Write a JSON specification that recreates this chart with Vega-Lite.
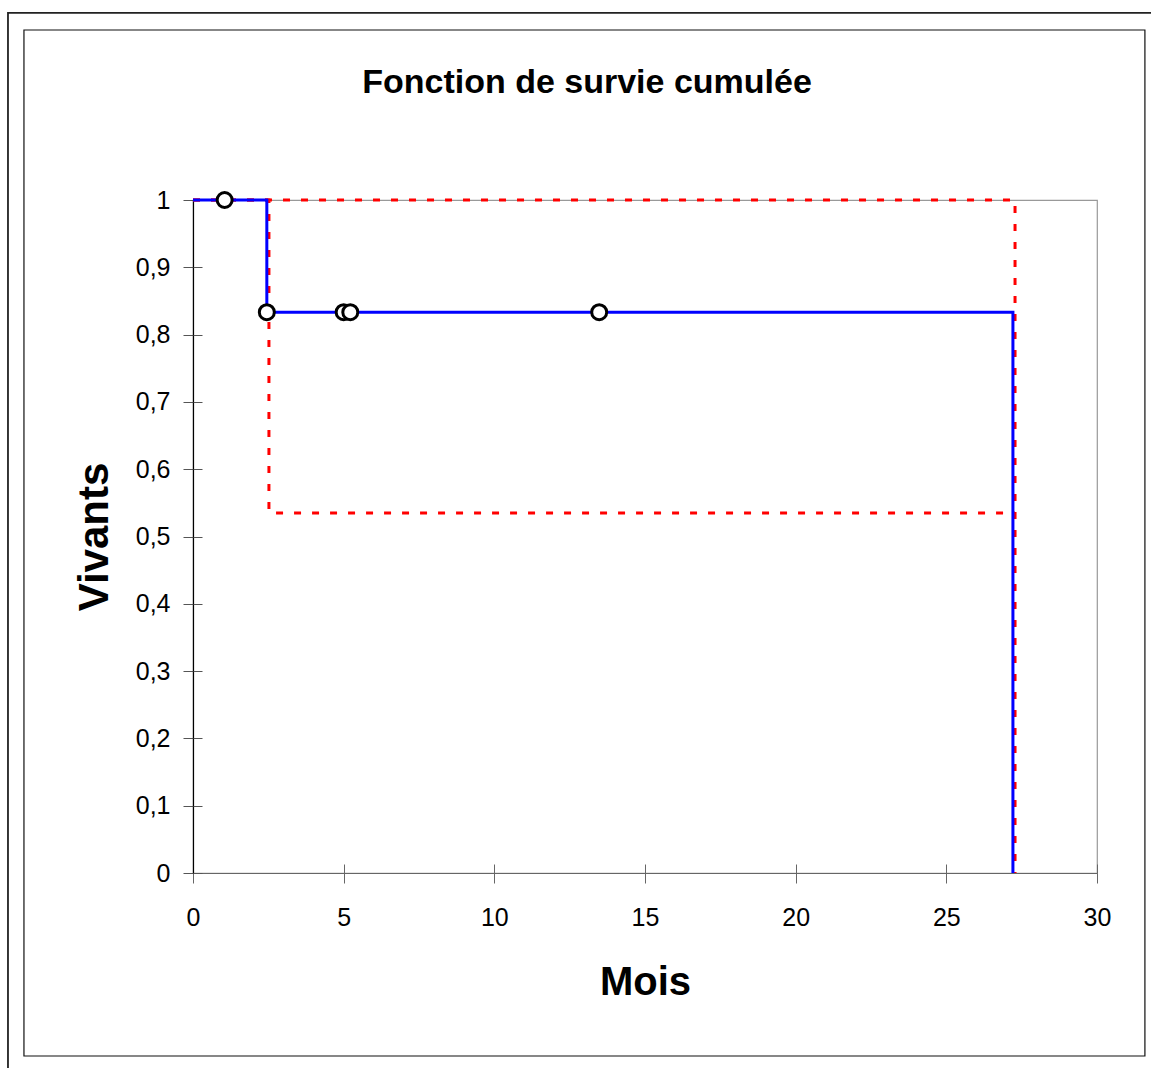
{
  "$schema": "https://vega.github.io/schema/vega-lite/v6.json",
  "width": 904,
  "height": 673,
  "autosize": {"type": "none"},
  "padding": {"left": 193, "top": 200, "right": 54, "bottom": 195},
  "background": "white",
  "config": {
    "view": {"stroke": "#999999", "strokeWidth": 1.2},
    "font": "Liberation Sans"
  },
  "title": {
    "text": "Fonction de survie cumulée",
    "font": "Liberation Sans",
    "fontSize": 34,
    "fontWeight": "bold",
    "color": "black",
    "anchor": "middle",
    "frame": "group",
    "dx": -58,
    "offset": -88
  },
  "datasets": {
    "courbes": [
      {"serie": "survie", "mois": 0, "vivants": 1},
      {"serie": "survie", "mois": 2.45, "vivants": 0.8333},
      {"serie": "survie", "mois": 27.21, "vivants": 0},
      {"serie": "ic_sup", "mois": 0, "vivants": 1},
      {"serie": "ic_sup", "mois": 27.28, "vivants": 0},
      {"serie": "ic_inf", "mois": 0, "vivants": 1},
      {"serie": "ic_inf", "mois": 2.52, "vivants": 0.535},
      {"serie": "ic_inf", "mois": 27.28, "vivants": 0.535}
    ],
    "censures": [
      {"mois": 1.05, "vivants": 1},
      {"mois": 2.45, "vivants": 0.8333},
      {"mois": 5.0, "vivants": 0.8333},
      {"mois": 5.22, "vivants": 0.8333},
      {"mois": 13.48, "vivants": 0.8333}
    ],
    "cadre": [{"cadre": "page"}]
  },
  "resolve": {"axis": {"x": "independent", "y": "independent"}},
  "layer": [
    {
      "data": {"name": "cadre"},
      "mark": {"type": "rect", "fill": "transparent", "stroke": "#222222", "strokeWidth": 1.8, "clip": false},
      "encoding": {
        "x": {"datum": -6.14, "type": "quantitative", "scale": {"domain": [0, 30]}, "axis": null},
        "x2": {"datum": 32.3},
        "y": {"datum": 1.278, "type": "quantitative", "scale": {"domain": [0, 1]}, "axis": null},
        "y2": {"datum": -0.31}
      }
    },
    {
      "data": {"name": "cadre"},
      "mark": {"type": "rect", "fill": "transparent", "stroke": "#111111", "strokeWidth": 1.2, "clip": false},
      "encoding": {
        "x": {"datum": -5.61, "type": "quantitative", "scale": {"domain": [0, 30]}, "axis": null},
        "x2": {"datum": 31.59},
        "y": {"datum": 1.2526, "type": "quantitative", "scale": {"domain": [0, 1]}, "axis": null},
        "y2": {"datum": -0.2719}
      }
    },
    {
      "data": {"name": "courbes"},
      "transform": [{"filter": "datum.serie !== 'survie'"}],
      "mark": {"type": "line", "interpolate": "step-after", "color": "#FF0000", "strokeWidth": 3, "strokeDash": [7, 11], "clip": false},
      "encoding": {
        "x": {"field": "mois", "type": "quantitative", "scale": {"domain": [0, 30]}, "axis": null},
        "y": {"field": "vivants", "type": "quantitative", "scale": {"domain": [0, 1]}, "axis": null},
        "detail": {"field": "serie"}
      }
    },
    {
      "data": {"name": "courbes"},
      "transform": [{"filter": "datum.serie === 'survie'"}],
      "mark": {"type": "line", "interpolate": "step-after", "color": "#0000FF", "strokeWidth": 3, "clip": false},
      "encoding": {
        "x": {
          "field": "mois", "type": "quantitative", "scale": {"domain": [0, 30], "nice": false},
          "title": "Mois",
          "axis": {
            "orient": "bottom",
            "values": [0, 5, 10, 15, 20, 25, 30],
            "grid": false,
            "domainColor": "#666666",
            "domainWidth": 1.2,
            "tickColor": "#666666",
            "tickSize": 10,
            "labelFont": "Liberation Sans",
            "labelFontSize": 25,
            "labelColor": "black",
            "labelPadding": 22,
            "labelFlush": false,
            "titleFont": "Liberation Sans",
            "titleFontSize": 40,
            "titleFontWeight": "bold",
            "titleColor": "black",
            "titlePadding": 32
          }
        },
        "y": {
          "field": "vivants", "type": "quantitative", "scale": {"domain": [0, 1], "nice": false},
          "title": "Vivants",
          "axis": {
            "orient": "left",
            "values": [0, 0.1, 0.2, 0.3, 0.4, 0.5, 0.6, 0.7, 0.8, 0.9, 1],
            "labelExpr": "replace(format(datum.value, '~g'), '.', ',')",
            "grid": false,
            "domainColor": "black",
            "domainWidth": 1.2,
            "tickColor": "#555555",
            "tickSize": 10,
            "labelFont": "Liberation Sans",
            "labelFontSize": 25,
            "labelColor": "black",
            "labelPadding": 13,
            "labelFlush": false,
            "titleFont": "Liberation Sans",
            "titleFontSize": 42,
            "titleFontWeight": "bold",
            "titleColor": "black",
            "titlePadding": 19
          }
        }
      }
    },
    {
      "data": {"name": "censures"},
      "mark": {"type": "point", "shape": "circle", "filled": true, "fill": "white", "stroke": "black", "strokeWidth": 3, "size": 225, "opacity": 1, "clip": false},
      "encoding": {
        "x": {
          "field": "mois", "type": "quantitative", "scale": {"domain": [0, 30], "nice": false},
          "axis": {"orient": "bottom", "values": [0, 5, 10, 15, 20, 25, 30], "grid": false, "domain": false, "labels": false, "title": null, "tickSize": -9, "tickColor": "#666666"}
        },
        "y": {
          "field": "vivants", "type": "quantitative", "scale": {"domain": [0, 1], "nice": false},
          "axis": {"orient": "left", "values": [0, 0.1, 0.2, 0.3, 0.4, 0.5, 0.6, 0.7, 0.8, 0.9, 1], "grid": false, "domain": false, "labels": false, "title": null, "tickSize": -9, "tickColor": "#555555"}
        }
      }
    }
  ]
}
